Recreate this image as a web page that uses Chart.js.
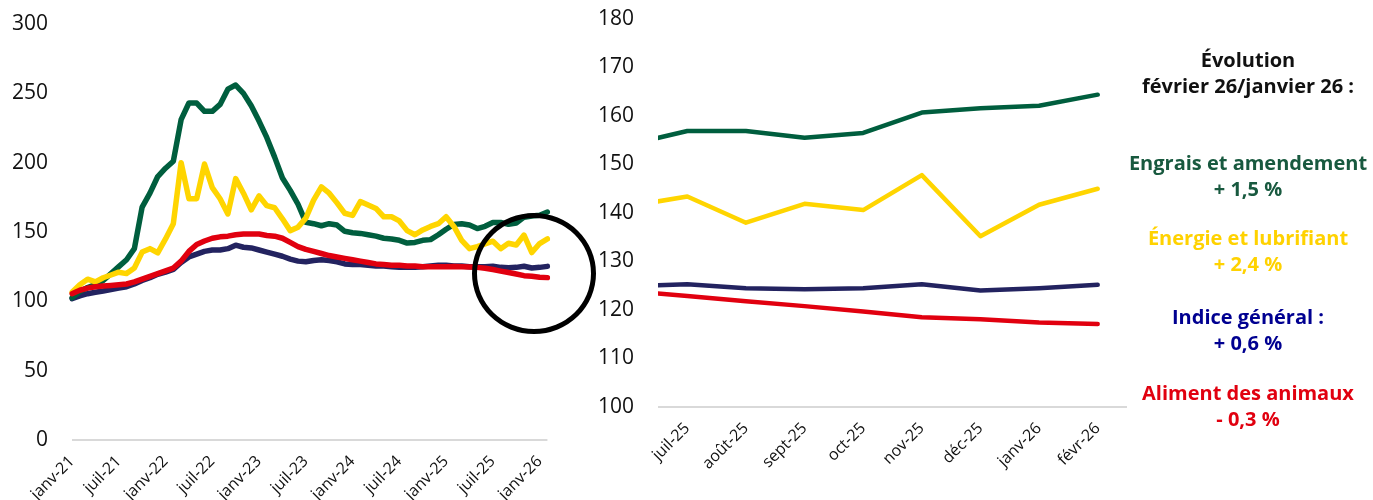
<!DOCTYPE html>
<html lang="fr">
<head>
<meta charset="utf-8">
<script src="https://cdn.jsdelivr.net/npm/chart.js@4.4.1/dist/chart.umd.min.js"></script>
<style>
  html, body { margin: 0; padding: 0; background: #fff; }
  #wrap { position: relative; width: 1373px; height: 500px; overflow: hidden; font-family: 'Open Sans', sans-serif; }
  #left { position: absolute; left: 0; top: 0; }
  #right { position: absolute; left: 560px; top: 0; }
  #circle { position: absolute; left: 472px; top: 213px; width: 114px; height: 111px; border: 5px solid #000; border-radius: 50%; }
  .note { position: absolute; left: 1118px; width: 260px; text-align: center; font-weight: 700; font-size: 20px; line-height: 26px; }
</style>
</head>
<body>
<div id="wrap">
  <canvas id="left" width="565" height="500"></canvas>
  <canvas id="right" width="580" height="500"></canvas>
  <div id="circle"></div>
  <div class="note" style="top:47px;color:#111">Évolution<br>février 26/janvier 26 :</div>
  <div class="note" style="top:150px;color:#18593f">Engrais et amendement<br>+ 1,5 %</div>
  <div class="note" style="top:225px;color:#ffd200">Énergie et lubrifiant<br>+ 2,4 %</div>
  <div class="note" style="top:304px;color:#000091">Indice général :<br>+ 0,6 %</div>
  <div class="note" style="top:380px;color:#e1000f">Aliment des animaux<br>- 0,3 %</div>
</div>
<script>
// monthly index, janv-21 .. févr-26
const monthNames = ['janv', 'févr', 'mars', 'avr', 'mai', 'juin', 'juil', 'août', 'sept', 'oct', 'nov', 'déc'];
const months = [];
for (let y = 21; y <= 26; y++) {
  for (let m = 0; m < 12; m++) {
    if (y === 26 && m > 1) break;
    months.push(monthNames[m] + '-' + y);
  }
}

const engrais = [102.5, 107, 110, 112, 115, 120, 125, 130, 138, 168, 178, 190, 196, 201, 231, 243, 243, 237, 237, 242,
  253, 256, 250, 241, 230, 218, 204, 189, 180, 170, 157, 156, 154.5, 156, 155, 150.5, 149.5, 149, 148, 147,
  145.5, 145, 144, 142, 142.5, 144, 144.5, 148, 152, 155.5, 156, 155, 152.5, 154.1, 156.9, 156.9, 155.5, 156.5,
  160.7, 161.6, 162.1, 164.4];
const energie = [106.5, 112, 116, 114, 117, 119, 121, 120, 124, 135.5, 138, 135, 145, 156, 200, 174, 174, 199, 182, 174,
  163, 188.5, 178, 166, 176, 169, 167.5, 159.5, 151, 153.5, 160, 173, 182.5, 178, 171, 163.5, 162, 172, 169.5, 167,
  161, 161, 158, 151, 148, 151.5, 154, 156, 161, 154, 144, 138, 139.5, 141.4, 143.4, 138, 141.9, 140.6,
  147.8, 135.2, 141.7, 145];
const general = [102, 104, 105.5, 106.5, 107.5, 108.5, 109.5, 110.5, 112.5, 115, 117, 119.5, 121, 123, 128, 132, 134, 136, 137, 137,
  138, 140.5, 139, 138.5, 137, 135.5, 134, 132.5, 130.5, 129, 128.5, 129.5, 130, 129.5, 128.5, 127, 126.5, 126.5, 126, 125.5,
  125.5, 125, 124.5, 124.5, 124.5, 125, 125.5, 126, 126, 125.5, 125.5, 125, 125, 124.9, 125.3, 124.5, 124.3, 124.5,
  125.3, 124.0, 124.5, 125.2];
const aliment = [105.5, 108, 109.5, 110.5, 111, 111.5, 112, 112.5, 114, 116, 118, 120, 122, 124, 129, 136, 141, 143.5, 145.5, 146.5,
  147, 148, 148.5, 148.5, 148.5, 147.5, 147, 145.5, 142.5, 139.5, 137.5, 136, 134.5, 133, 132, 131, 130, 129, 128, 127,
  126.5, 126, 126, 125.5, 125.5, 125, 125, 125, 125, 125.2, 125, 124.8, 124.5, 123.9, 122.9, 121.8, 120.8, 119.7,
  118.5, 118.1, 117.4, 117.1];

// zoom: juin-25 (cut at the left edge) .. févr-26
const zoomLabels = ['juil-25', 'août-25', 'sept-25', 'oct-25', 'nov-25', 'déc-25', 'janv-26', 'févr-26'];

const colors = { engrais: '#005e3e', energie: '#ffd500', general: '#232360', aliment: '#e1000f' };

Chart.defaults.font.family = "'Open Sans', sans-serif";
Chart.defaults.color = '#111';

function series(width, mapFn) {
  return [
    { data: mapFn(aliment), borderColor: colors.aliment },
    { data: mapFn(energie), borderColor: colors.energie },
    { data: mapFn(engrais), borderColor: colors.engrais },
    { data: mapFn(general), borderColor: colors.general }
  ].map(d => Object.assign(d, {
    borderWidth: width, pointRadius: 0, tension: 0,
    borderCapStyle: 'round', borderJoinStyle: 'round', fill: false
  }));
}

const common = {
  responsive: false,
  animation: false,
  plugins: { legend: { display: false }, tooltip: { enabled: false } }
};

// y axis: fixed width, no extra padding from the tick labels
function fixY(width) {
  return s => { s.width = width; s.paddingTop = 0; s.paddingBottom = 0; };
}

// left: whole period
new Chart(document.getElementById('left'), {
  type: 'line',
  data: { labels: months, datasets: series(5.5, a => a) },
  options: Object.assign({}, common, {
    layout: { padding: { top: 24, right: 17, left: 0, bottom: 0 } },
    scales: {
      x: {
        grid: { display: false },
        border: { display: false },
        ticks: {
          autoSkip: false, minRotation: 45, maxRotation: 45, padding: 4,
          font: { size: 16 },
          callback: function (v, i) { return i % 6 === 0 ? this.getLabelForValue(v) : ''; }
        },
        afterFit: s => { s.height = 60; }
      },
      y: {
        min: 0, max: 300,
        grid: { color: c => c.tick.value === 0 ? '#d9d9d9' : 'rgba(0,0,0,0)', lineWidth: 2, drawTicks: false },
        border: { display: false },
        ticks: { stepSize: 50, padding: 24, font: { size: 21 } },
        afterFit: fixY(72)
      }
    }
  })
});

// right: last months
const n = zoomLabels.length + 1;
new Chart(document.getElementById('right'), {
  type: 'line',
  data: { datasets: series(4.5, a => a.slice(-n).map((v, i) => ({ x: i - 1, y: v }))).map(d => Object.assign(d, {
    clip: { left: 0, top: false, right: false, bottom: false }
  })) },
  options: Object.assign({}, common, {
    layout: { padding: { top: 19, right: 13, left: 0, bottom: 0 } },
    scales: {
      x: {
        type: 'linear', min: -0.5, max: zoomLabels.length - 0.5,
        grid: { display: false },
        border: { display: false },
        afterBuildTicks: s => { s.ticks = zoomLabels.map((l, i) => ({ value: i })); },
        ticks: {
          autoSkip: false, minRotation: 45, maxRotation: 45, padding: 4,
          font: { size: 16 },
          callback: v => zoomLabels[v]
        },
        afterFit: s => { s.height = 93; }
      },
      y: {
        min: 100, max: 180,
        grid: { color: c => c.tick.value === 100 ? '#d9d9d9' : 'rgba(0,0,0,0)', lineWidth: 2, drawTicks: false },
        border: { display: false },
        ticks: { stepSize: 10, padding: 24, font: { size: 21 } },
        afterFit: fixY(98)
      }
    }
  })
});
</script>
</body>
</html>
